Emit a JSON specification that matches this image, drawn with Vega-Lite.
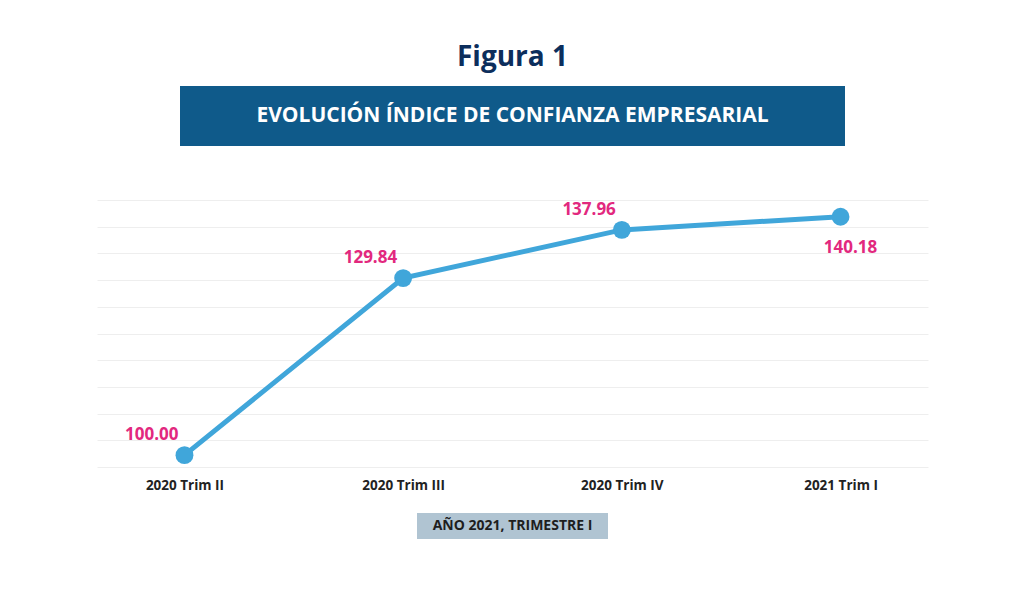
{
  "$schema": "https://vega.github.io/schema/vega-lite/v6.json",
  "padding": {"left": 97, "top": 44, "right": 20, "bottom": 20},
  "background": "white",
  "config": {
    "view": {"stroke": null},
    "font": "Open Sans",
    "concat": {"spacing": 21}
  },
  "title": {
    "text": "Figura 1",
    "fontSize": 28,
    "fontWeight": "bold",
    "font": "Open Sans",
    "color": "#0c2e5c",
    "anchor": "middle",
    "offset": 14
  },
  "vconcat": [
    {
      "width": 665,
      "height": 60,
      "view": {"fill": "#0f5a8a", "stroke": null},
      "data": {"values": [{"t": "EVOLUCIÓN ÍNDICE DE CONFIANZA EMPRESARIAL"}]},
      "mark": {"type": "text", "color": "white", "fontSize": 21, "fontWeight": "bold", "font": "Open Sans", "baseline": "middle", "align": "center"},
      "encoding": {"text": {"field": "t"}}
    },
    {
      "width": 10,
      "height": 9,
      "data": {"values": [{"t": ""}]},
      "mark": {"type": "text"},
      "encoding": {"text": {"field": "t"}}
    },
    {
      "width": 831,
      "height": 267,
      "data": {
        "values": [
          {"trimestre": "2020 Trim II", "indice": 100.00},
          {"trimestre": "2020 Trim III", "indice": 129.84},
          {"trimestre": "2020 Trim IV", "indice": 137.96},
          {"trimestre": "2021 Trim I", "indice": 140.18}
        ]
      },
      "encoding": {
        "x": {
          "field": "trimestre",
          "type": "ordinal",
          "sort": null,
          "scale": {"type": "point", "padding": 0.4},
          "axis": {
            "title": null,
            "labelAngle": 0,
            "domain": false,
            "ticks": false,
            "grid": false,
            "labelPadding": 11,
            "labelFontSize": 13.5,
            "labelFontWeight": "bold",
            "labelColor": "#222222",
            "labelFont": "Open Sans"
          }
        },
        "y": {
          "field": "indice",
          "type": "quantitative",
          "scale": {"domain": [98, 143], "nice": false, "zero": false},
          "axis": {
            "title": null,
            "labels": false,
            "ticks": false,
            "domain": false,
            "grid": true,
            "gridColor": "#eeeeee",
            "gridWidth": 1,
            "values": [98, 102.5, 107, 111.5, 116, 120.5, 125, 129.5, 134, 138.5, 143]
          }
        }
      },
      "layer": [
        {"mark": {"type": "line", "color": "#40a6da", "strokeWidth": 5}},
        {"mark": {"type": "circle", "color": "#40a6da", "opacity": 1, "size": 320}},
        {
          "transform": [{"filter": "datum.trimestre != '2021 Trim I'"}],
          "mark": {"type": "text", "color": "#e2287e", "fontSize": 17, "fontWeight": "bold", "font": "Open Sans", "align": "right", "baseline": "middle", "dx": -6, "dy": -20},
          "encoding": {"text": {"field": "indice", "type": "quantitative", "format": ".2f"}}
        },
        {
          "transform": [{"filter": "datum.trimestre == '2021 Trim I'"}],
          "mark": {"type": "text", "color": "#e2287e", "fontSize": 17, "fontWeight": "bold", "font": "Open Sans", "align": "center", "baseline": "middle", "dx": 10, "dy": 31},
          "encoding": {"text": {"field": "indice", "type": "quantitative", "format": ".2f"}}
        }
      ]
    },
    {
      "width": 191,
      "height": 26,
      "view": {"fill": "#b0c4d2", "stroke": null},
      "data": {"values": [{"t": "AÑO 2021, TRIMESTRE I"}]},
      "mark": {"type": "text", "color": "#1e1e1e", "fontSize": 14, "fontWeight": "bold", "font": "Open Sans", "baseline": "middle", "align": "center"},
      "encoding": {"text": {"field": "t"}}
    }
  ],
  "center": true
}
